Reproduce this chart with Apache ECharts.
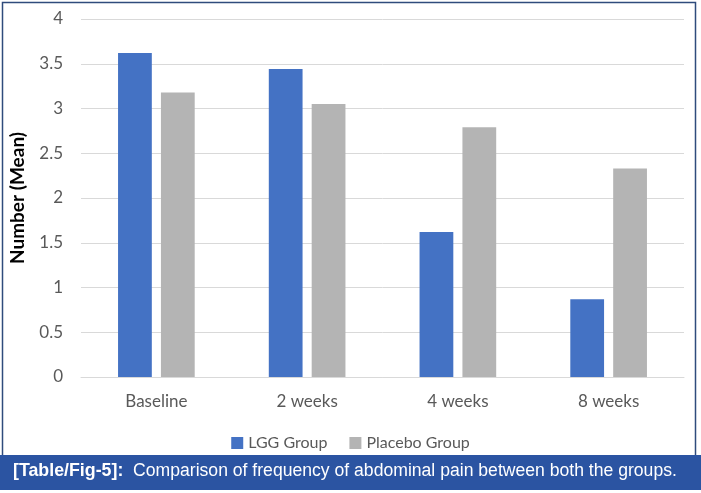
<!DOCTYPE html>
<html>
<head>
<meta charset="utf-8">
<script src="https://cdn.jsdelivr.net/npm/echarts@6/dist/echarts.min.js"></script>
<style>
html,body{margin:0;padding:0;background:#fff;}
#c{width:701px;height:493px;}
</style>
</head>
<body>
<div id="c"></div>
<script>
const categories = ['Baseline', '2 weeks', '4 weeks', '8 weeks'];
const lggValues = [3.62, 3.44, 1.62, 0.87];
const placeboValues = [3.18, 3.05, 2.79, 2.33];
const seriesNames = ['LGG Group', 'Placebo Group'];
const yAxisTitle = 'Number (Mean)';
const captionLabel = '[Table/Fig-5]:';
const captionText = '  Comparison of frequency of abdominal pain between both the groups.';

const chart = echarts.init(document.getElementById('c'), null, {renderer: 'canvas'});
const labelFont = 'Lato, "Open Sans", sans-serif';
const capFont = '"Liberation Sans", Arial, sans-serif';
chart.setOption({
  animation: false,
  backgroundColor: '#ffffff',
  graphic: [
    {type: 'rect', z: 0, shape: {x: 2.5, y: 2.5, width: 693, height: 455}, style: {fill: '#ffffff', stroke: '#2F4B7C', lineWidth: 1.5}},
    {type: 'rect', z: 1, shape: {x: 0, y: 455, width: 701, height: 35}, style: {fill: '#2B54A2'}}
  ],
  title: {
    text: '{b|' + captionLabel + '}{n|' + captionText + '}',
    left: 13,
    top: 462,
    padding: 0,
    z: 10,
    textStyle: {
      fontWeight: 'normal',
      rich: {
        b: {fontFamily: capFont, fontWeight: 'bold', fontSize: 17.8, color: '#ffffff'},
        n: {fontFamily: capFont, fontWeight: 'normal', fontSize: 17.6, color: '#ffffff'}
      }
    }
  },
  legend: {
    data: seriesNames,
    left: 'center',
    top: 430,
    itemWidth: 12,
    itemHeight: 12,
    itemGap: 22,
    icon: 'rect',
    textStyle: {fontFamily: labelFont, fontSize: 16, color: '#595959'}
  },
  grid: {left: 78, right: 17, top: 19, bottom: 116, containLabel: false},
  xAxis: {
    type: 'category',
    data: categories,
    axisLine: {lineStyle: {color: '#D9D9D9', width: 1}},
    axisTick: {show: false},
    axisLabel: {fontFamily: labelFont, fontSize: 17, color: '#595959', margin: 16}
  },
  yAxis: {
    type: 'value',
    min: 0,
    max: 4,
    interval: 0.5,
    name: yAxisTitle,
    nameLocation: 'middle',
    nameGap: 54,
    nameTextStyle: {fontFamily: labelFont, fontSize: 19, fontWeight: 'bold', color: '#000000'},
    axisLine: {show: false},
    axisTick: {show: false},
    axisLabel: {fontFamily: labelFont, fontSize: 17, color: '#595959', margin: 18},
    splitLine: {lineStyle: {color: '#D9D9D9', width: 1}}
  },
  series: [
    {name: seriesNames[0], type: 'bar', data: lggValues, barWidth: '22.4%', barGap: '27%', itemStyle: {color: '#4472C4'}},
    {name: seriesNames[1], type: 'bar', data: placeboValues, barWidth: '22.4%', barGap: '27%', itemStyle: {color: '#B4B4B4'}}
  ]
});
</script>
</body>
</html>
